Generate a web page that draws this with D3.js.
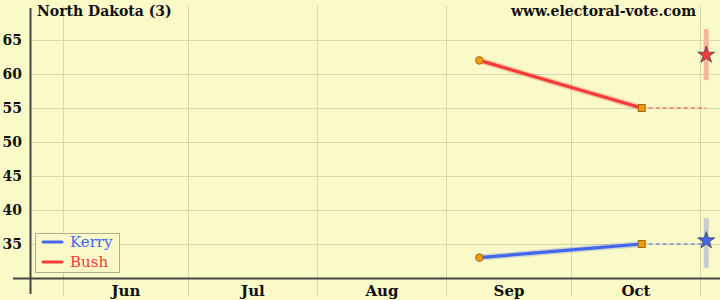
<!DOCTYPE html>
<html><head><meta charset="utf-8">
<script src="https://cdn.jsdelivr.net/npm/d3@7"></script>
<style>body{margin:0;background:#fafac8;} svg{display:block;}</style>
</head><body>
<svg id="c" width="720" height="300"></svg>
<script>
const title = "North Dakota (3)";
const source = "www.electoral-vote.com";
const yTicks = [35, 40, 45, 50, 55, 60, 65];
const monthStarts = ["2004-06-01","2004-07-01","2004-08-01","2004-09-01","2004-10-01","2004-11-01"];
const monthLabels = ["Jun","Jul","Aug","Sep","Oct"];
const pollDates = ["2004-09-09","2004-10-18"];
const kerry = [33, 35];
const bush = [62, 55];
const electionDate = "2004-11-02T12:00";
const kerryPred = 35.5, kerryLo = 31.5, kerryHi = 38.8;
const bushPred = 62.8, bushLo = 59.1, bushHi = 66.6;

const parse = s => new Date(s.length > 10 ? s : s + "T00:00");
const svg = d3.select("#c");
const W = 720, H = 300;
const x = d3.scaleTime().domain([parse("2004-06-01"), parse("2004-11-01")]).range([63, 700]);
const y = d3.scaleLinear().domain([30, 70]).range([278, 6]);

svg.append("rect").attr("width", W).attr("height", H).attr("fill", "#fafac8");

// grid
const grid = svg.append("g").attr("stroke", "#d6d6b0").attr("stroke-width", 1);
yTicks.forEach(v => grid.append("line").attr("x1", 30).attr("x2", W).attr("y1", Math.round(y(v)) + 0.5).attr("y2", Math.round(y(v)) + 0.5));
monthStarts.forEach(d => grid.append("line").attr("x1", Math.round(x(parse(d))) + 0.5).attr("x2", Math.round(x(parse(d))) + 0.5).attr("y1", 6).attr("y2", 296));

// y axis tick labels
const yAxis = d3.axisLeft(y).tickValues(yTicks).tickSize(0).tickPadding(8);
const gy = svg.append("g").attr("transform", "translate(30,0)").call(yAxis);
gy.select(".domain").remove();
gy.selectAll("text").attr("font-family", "DejaVu Serif").attr("font-weight", "bold").attr("font-size", 14).attr("fill", "#111");

// x axis month labels at mid-month
const mids = monthStarts.slice(0, -1).map((d, i) => new Date((parse(d).getTime() + parse(monthStarts[i + 1]).getTime()) / 2));
const xAxis = d3.axisBottom(x).tickValues(mids).tickFormat((d, i) => monthLabels[i]).tickSize(0).tickPadding(7);
const gx = svg.append("g").attr("transform", "translate(0,278)").call(xAxis);
gx.select(".domain").remove();
gx.selectAll("text").attr("font-family", "DejaVu Serif").attr("font-weight", "bold").attr("font-size", 15).attr("fill", "#111");

// axis lines
svg.append("line").attr("x1", 13).attr("x2", W).attr("y1", 278.5).attr("y2", 278.5).attr("stroke", "#444").attr("stroke-width", 2);
svg.append("line").attr("x1", 30.5).attr("x2", 30.5).attr("y1", 8).attr("y2", 294).attr("stroke", "#444").attr("stroke-width", 2);

// error bars
const eX = x(parse(electionDate));
svg.append("line").attr("x1", eX).attr("x2", eX).attr("y1", y(bushHi)).attr("y2", y(bushLo)).attr("stroke", "#f8b49c").attr("stroke-width", 5);
svg.append("line").attr("x1", eX).attr("x2", eX).attr("y1", y(kerryHi)).attr("y2", y(kerryLo)).attr("stroke", "#c4ccd4").attr("stroke-width", 5);

function series(vals, color, halo, pred) {
  const pts = pollDates.map((d, i) => [x(parse(d)), y(vals[i])]);
  const line = d3.line();
  svg.append("path").attr("d", line(pts)).attr("fill", "none").attr("stroke", halo).attr("stroke-width", 6).attr("stroke-linecap", "round");
  svg.append("path").attr("d", line(pts)).attr("fill", "none").attr("stroke", color).attr("stroke-width", 3.2).attr("stroke-linecap", "round");
  const last = pts[pts.length - 1];
  svg.append("line").attr("x1", last[0]).attr("x2", eX).attr("y1", last[1]).attr("y2", last[1]).attr("stroke", color).attr("stroke-width", 1.2).attr("stroke-dasharray", "4,3");
  svg.append("circle").attr("cx", pts[0][0]).attr("cy", pts[0][1]).attr("r", 3.8).attr("fill", "#f39a10").attr("stroke", "#a86a10").attr("stroke-width", 1);
  svg.append("rect").attr("x", last[0] - 3.5).attr("y", last[1] - 3.5).attr("width", 7).attr("height", 7).attr("fill", "#f39a10").attr("stroke", "#a86a10").attr("stroke-width", 1);
  svg.append("path").attr("d", d3.symbol(d3.symbolStar, 90)()).attr("transform", `translate(${eX},${y(pred)})`).attr("fill", color).attr("stroke", "#444").attr("stroke-width", 0.8);
}
series(bush, "#f43a3a", "rgba(244,58,58,0.25)", bushPred);
series(kerry, "#4466ee", "rgba(68,102,238,0.25)", kerryPred);

// titles
svg.append("text").attr("x", 37).attr("y", 16).text(title).attr("font-family", "DejaVu Serif").attr("font-weight", "bold").attr("font-size", 14).attr("fill", "#111");
svg.append("text").attr("x", 696).attr("y", 16).attr("text-anchor", "end").text(source).attr("font-family", "DejaVu Serif").attr("font-weight", "bold").attr("font-size", 14).attr("fill", "#111");

// legend
const lg = svg.append("g");
lg.append("rect").attr("x", 35.5).attr("y", 233.5).attr("width", 84).attr("height", 39).attr("fill", "#fafac8").attr("stroke", "#b0b090").attr("stroke-width", 1);
[["Kerry", "#4466ee", 242], ["Bush", "#f43a3a", 262]].forEach(([n, c, yy]) => {
  lg.append("line").attr("x1", 43).attr("x2", 62).attr("y1", yy).attr("y2", yy).attr("stroke", c).attr("stroke-width", 3).attr("stroke-linecap", "round");
  lg.append("text").attr("x", 70).attr("y", yy + 5).text(n).attr("fill", c).attr("font-family", "DejaVu Serif").attr("font-size", 15);
});
</script>
</body></html>
